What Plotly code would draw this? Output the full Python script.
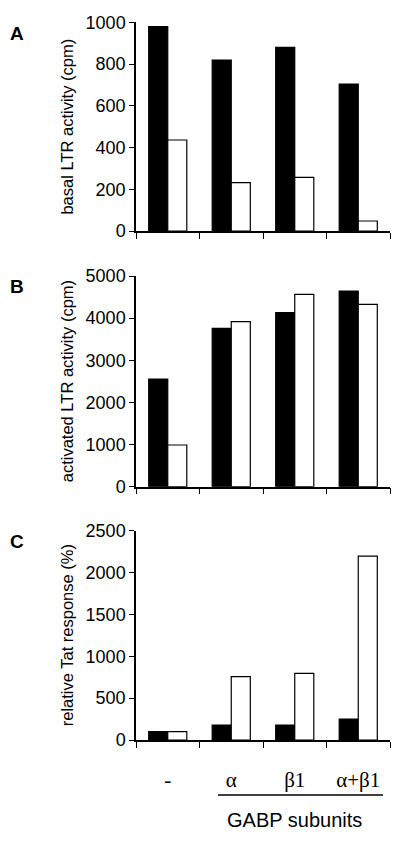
import plotly.graph_objects as go

categories = ["-", "α", "β1", "α+β1"]

basal_black = [979, 819, 880, 704]
basal_white = [436, 232, 257, 48]

activated_black = [2555, 3758, 4130, 4644]
activated_white = [989, 3916, 4565, 4328]

tat_black = [100, 179, 179, 251]
tat_white = [100, 756, 796, 2197]

panels = [
    ("A", "basal LTR activity (cpm)", basal_black, basal_white, 1000, 200),
    ("B", "activated LTR activity (cpm)", activated_black, activated_white, 5000, 1000),
    ("C", "relative Tat response (%)", tat_black, tat_white, 2500, 500),
]

# page body has an 8px margin, so figure is 384x827 and offsets are -8px
OFF = 8
W, H = 384, 827
L, PW = 136 - OFF, 254
# screen pixel top / bottom of each plot area
boxes = [(22.3, 231), (276, 486.7), (530.7, 740)]

fig = go.Figure()
font = "Liberation Sans, Arial, sans-serif"

for i, (letter, title, blk, wht, top, dt) in enumerate(panels):
    n = "" if i == 0 else str(i + 1)
    fig.add_trace(go.Bar(x=categories, y=blk, xaxis="x" + n, yaxis="y" + n,
                         marker=dict(color="black", line=dict(color="black", width=1.2)),
                         showlegend=False))
    fig.add_trace(go.Bar(x=categories, y=wht, xaxis="x" + n, yaxis="y" + n,
                         marker=dict(color="white", line=dict(color="black", width=1.2)),
                         showlegend=False))
    y0, y1 = boxes[i]
    dom = [1 - (y1 - OFF) / H, 1 - (y0 - OFF) / H]
    last = i == 2
    fig.layout["xaxis" + n] = dict(
        domain=[0, 1], anchor="y" + n, type="category", automargin=False,
        showline=True, linecolor="black", linewidth=1.5,
        ticks="outside", tickson="boundaries", ticklen=6, tickwidth=1.3, tickcolor="black",
        showticklabels=last, showgrid=False,
        tickfont=dict(family="Liberation Serif, Times New Roman, serif", size=21, color="black"),
        ticklabelstandoff=20,
    )
    fig.layout["yaxis" + n] = dict(
        domain=dom, anchor="x" + n, range=[0, top], dtick=dt, automargin=False,
        showline=True, linecolor="black", linewidth=1.5,
        ticks="outside", ticklen=5, tickwidth=1.3, tickcolor="black",
        showgrid=False, zeroline=False,
        tickfont=dict(family=font, size=18, color="black"),
    )
    fig.add_annotation(text=title, textangle=-90, xref="paper", yref="paper",
                       x=-0.272, y=(dom[0] + dom[1]) / 2, showarrow=False,
                       xanchor="center", yanchor="middle",
                       font=dict(family=font, size=16.5, color="black"))
    fig.add_annotation(text="<b>" + letter + "</b>", xref="paper", yref="paper",
                       x=-0.47, y=dom[1] + 0.002, showarrow=False,
                       xanchor="center", yanchor="top",
                       font=dict(family=font, size=19, color="black"))

fig.add_shape(type="line", xref="paper", yref="paper",
              x0=(218 - 136) / PW, x1=(383 - 136) / PW,
              y0=1 - (795 - OFF) / H, y1=1 - (795 - OFF) / H,
              line=dict(color="black", width=1.5))
fig.add_annotation(text="GABP subunits", xref="paper", yref="paper",
                   x=(294 - 136) / PW, y=1 - (820 - OFF) / H, showarrow=False,
                   xanchor="center", yanchor="middle",
                   font=dict(family=font, size=20, color="black"))

fig.update_layout(
    width=W, height=H,
    margin=dict(l=L, r=W - L - PW, t=0, b=0, autoexpand=False),
    barmode="group", bargap=0.4, bargroupgap=0,
    plot_bgcolor="white", paper_bgcolor="white",
)

fig.write_html("out.html")
